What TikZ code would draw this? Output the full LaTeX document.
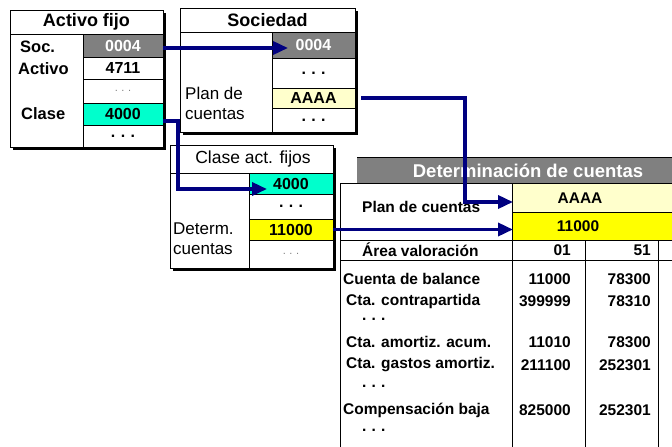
\documentclass[tikz,border=0pt]{standalone}
\usepackage{fontspec}
\setmainfont{Liberation Sans}
\usetikzlibrary{arrows.meta,calc}
\definecolor{navyline}{RGB}{0,0,128}
\definecolor{cellgrey}{RGB}{128,128,128}
\definecolor{aquacell}{RGB}{0,255,204}
\definecolor{paleyellow}{RGB}{255,255,204}
\definecolor{brightyellow}{RGB}{255,255,0}
\newcommand\cellfont{\fontsize{16}{18}\selectfont\bfseries}
\newcommand\lblfont{\fontsize{16.5}{18}\selectfont\bfseries}
\newcommand\reglbl{\fontsize{17}{19}\selectfont}
\newcommand\tabfont{\fontsize{15.5}{17}\selectfont\bfseries}
\newcommand\hdrfont{\fontsize{18}{20}\selectfont\bfseries}
\newcommand\lightdots{{\color{gray}\fontsize{11}{13}\selectfont\mdseries .\,\,.\,\,.}}
\newcommand\bolddots{.\,\,.\,\,.}
\begin{document}
\begin{tikzpicture}[x=1pt,y=-1pt,
  cellbox/.style n args={2}{draw=black, line width=0.8pt, inner sep=0pt, outer sep=0pt,
      anchor=north west, minimum width=#1, minimum height=#2, font=\cellfont},
  frame/.style={draw=black, line width=1pt, fill=white},
  shade/.style={fill=black},
  rule/.style={draw=black, line width=0.9pt},
  lbl/.style={anchor=west, inner sep=0pt, font=\lblfont},
  rlbl/.style={anchor=west, inner sep=0pt, font=\reglbl},
  hdr/.style={inner sep=0pt, font=\hdrfont},
  tlbl/.style={anchor=west, inner sep=0pt, font=\tabfont},
  tval/.style={anchor=east, inner sep=0pt, font=\tabfont},
  link/.style={draw=navyline, line width=3.5pt, -{Triangle[length=15pt,width=13pt]}}
]
\clip (0,0) rectangle (672,447);
\fill[white] (0,0) rectangle (672,447);

% ---------- Determinacion de cuentas ----------
\fill[cellgrey] (357,157) rectangle (690,183);
\draw[rule] (357,157) -- (690,157);
\node[hdr, text=white, font=\fontsize{18.5}{20}\selectfont\bfseries] (dhdr) at (528,171) {Determinación de cuentas};
\node[cellbox={180pt}{29pt}, fill=paleyellow] (dAAAA) at (512,183) {};
\node[cellbox={180pt}{28pt}, fill=brightyellow] (d11000) at (512,212) {};
\draw[rule] (340,460) -- (340,183) -- (690,183);
\draw[rule] (340,240) -- (690,240);
\draw[rule] (340,260) -- (690,260);
\draw[rule] (512,183) -- (512,460);
\draw[rule] (585,240) -- (585,460);
\draw[rule] (658,240) -- (658,460);
\node[inner sep=0pt, font=\tabfont] (tAAAA) at (580,198) {AAAA};
\node[inner sep=0pt, font=\tabfont] (t11000) at (578,226) {11000};
\node[tlbl] (dplan) at (362,207) {Plan de cuentas};
\node[tlbl] (darea) at (362,250) {Área valoración};
\node[tval] (d01) at (571,250) {01};
\node[tval] (d51) at (651,250) {51};

\node[tlbl] (r1) at (343,279) {Cuenta de balance};
\node[tval] (r1a) at (571,279) {11000};
\node[tval] (r1b) at (651,279) {78300};
\node[tlbl] (r2) at (346,301) {Cta. contrapartida};
\node[tval] (r2a) at (571,301) {399999};
\node[tval] (r2b) at (651,301) {78310};
\node[tlbl] (r3) at (362,319) {\bolddots};
\node[tlbl] (r4) at (346,342) {Cta. amortiz. acum.};
\node[tval] (r4a) at (571,342) {11010};
\node[tval] (r4b) at (651,342) {78300};
\node[tlbl] (r5) at (346,365) {Cta. gastos amortiz.};
\node[tval] (r5a) at (571,365) {211100};
\node[tval] (r5b) at (651,365) {252301};
\node[tlbl] (r6) at (362,386) {\bolddots};
\node[tlbl] (r7) at (343,410) {Compensación baja};
\node[tval] (r7a) at (571,410) {825000};
\node[tval] (r7b) at (651,410) {252301};
\node[tlbl] (r8) at (362,430) {\bolddots};

% ---------- Activo fijo ----------
\fill[shade] (13,13) rectangle (166,150);
\draw[frame] (10,10) rectangle (163,147);
\draw[rule] (10,34) -- (163,34);
\draw[rule] (83,34) -- (83,147);
\node[hdr] (ahdr) at (86.5,22) {Activo fijo};
\node[cellbox={80pt}{23pt}, fill=cellgrey, text=white] (a0004) at (83,34) {0004};
\node[cellbox={80pt}{22pt}] (a4711) at (83,57) {4711};
\node[cellbox={80pt}{24pt}] (adots1) at (83,79) {\lightdots};
\node[cellbox={80pt}{22pt}, fill=aquacell] (a4000) at (83,103) {4000};
\node[cellbox={80pt}{22pt}] (adots2) at (83,125) {\bolddots};
\node[lbl] (asoc) at (20,47) {Soc.};
\node[lbl] (aact) at (18,69) {Activo};
\node[lbl] (acla) at (21,114) {Clase};

% ---------- Sociedad ----------
\fill[shade] (183,11) rectangle (358,135);
\draw[frame] (180,8) rectangle (355,132);
\draw[rule] (180,32) -- (355,32);
\draw[rule] (272,32) -- (272,132);
\node[hdr] (shdr) at (267.5,20) {Sociedad};
\node[cellbox={83pt}{26pt}, fill=cellgrey, text=white] (s0004) at (272,32) {0004};
\node[cellbox={83pt}{30pt}] (sdots1) at (272,58) {\bolddots};
\node[cellbox={83pt}{20pt}, fill=paleyellow] (sAAAA) at (272,88) {AAAA};
\node[cellbox={83pt}{24pt}] (sdots2) at (272,108) {\bolddots};
\node[rlbl] (splan) at (185,93) {Plan de};
\node[rlbl] (scue) at (185,114) {cuentas};

% ---------- Clase act. fijos ----------
\fill[shade] (173,148) rectangle (336,271);
\draw[frame] (170,145) rectangle (333,268);
\draw[rule] (170,173) -- (333,173);
\draw[rule] (249,173) -- (249,268);
\node[inner sep=0pt, font=\fontsize{17.5}{19}\selectfont] (chdr) at (253,159) {Clase act. fijos};
\node[cellbox={84pt}{21pt}, fill=aquacell] (c4000) at (249,173) {4000};
\node[cellbox={84pt}{25pt}] (cdots1) at (249,194) {\bolddots};
\node[cellbox={84pt}{21pt}, fill=brightyellow] (c11000) at (249,219) {11000};
\node[cellbox={84pt}{28pt}] (cdots2) at (249,240) {\lightdots};
\node[rlbl] (cdet) at (173,229) {Determ.};
\node[rlbl] (ccue) at (173,249) {cuentas};

% ---------- connectors ----------
\coordinate (t1) at (288,48);
\coordinate (k2) at (178,121);
\coordinate (t2) at (267,189);
\coordinate (k3) at (465,202);
\coordinate (t3) at (513,202);
\draw[link] (a0004.east |- t1) -- (t1);
\draw[link] (a4000.east |- k2) -- (k2) |- (t2);
\draw[link] ([xshift=6pt]sAAAA.east) -| (k3) -- (t3);
\draw[link] (c11000.east) -- (c11000.east -| t3);
\end{tikzpicture}
\end{document}
